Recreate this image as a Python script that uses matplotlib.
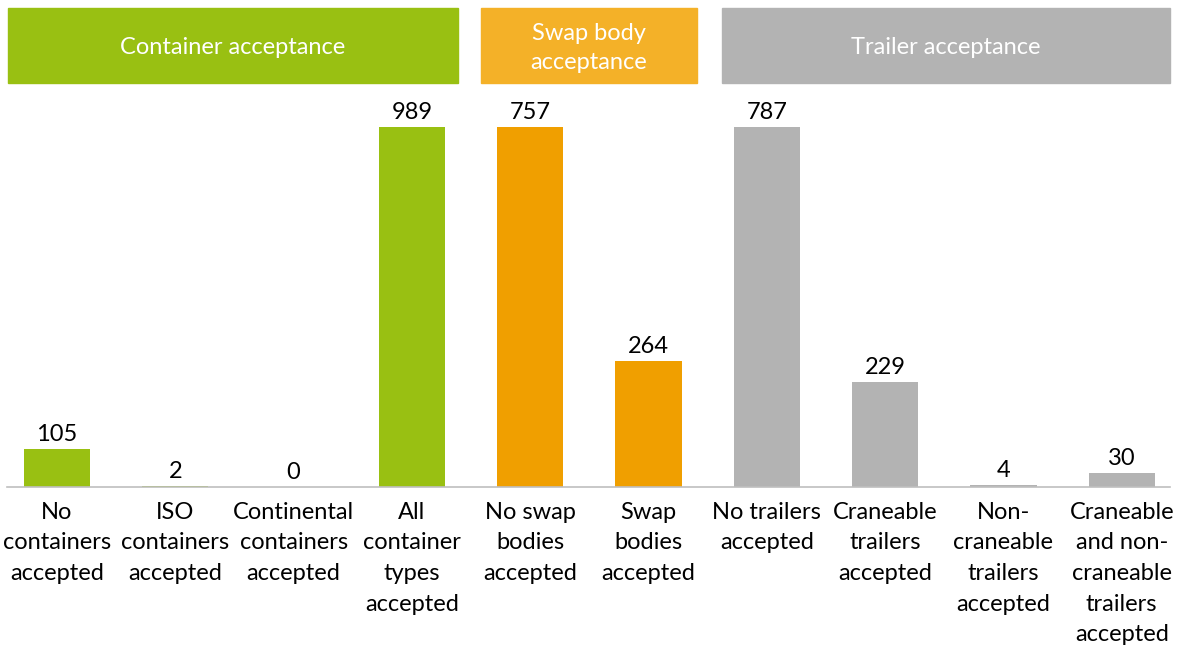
import matplotlib.pyplot as plt
from matplotlib.patches import Rectangle
from matplotlib.lines import Line2D

plt.rcParams['font.family'] = ['Lato', 'DejaVu Sans']

# terminal counts per acceptance type
container_labels = ["No\ncontainers\naccepted", "ISO\ncontainers\naccepted",
                    "Continental\ncontainers\naccepted", "All\ncontainer\ntypes\naccepted"]
container_values = [105, 2, 0, 989]
swap_labels = ["No swap\nbodies\naccepted", "Swap\nbodies\naccepted"]
swap_values = [757, 264]
trailer_labels = ["No trailers\naccepted", "Craneable\ntrailers\naccepted",
                  "Non-\ncraneable\ntrailers\naccepted",
                  "Craneable\nand non-\ncraneable\ntrailers\naccepted"]
trailer_values = [787, 229, 4, 30]

groups = [
    ("Container acceptance", container_labels, container_values, "#99C012", "#99C012"),
    ("Swap body\nacceptance", swap_labels, swap_values, "#F09F00", "#F4B128"),
    ("Trailer acceptance", trailer_labels, trailer_values, "#B3B3B3", "#B3B3B3"),
]
# header boxes in pixel x-ranges
header_spans = [(8, 458), (481, 697), (722, 1170)]

W, H = 1177, 646
fig = plt.figure(figsize=(W / 100, H / 100), dpi=100)

step = 118.3
x0 = 57 - step / 2
base_y = 487
bar_top = 127
slot = 0
for (title, labels, values, color, hcolor), (hx0, hx1) in zip(groups, header_spans):
    n = len(values)
    left = x0 + slot * step
    ax = fig.add_axes([left / W, (H - base_y) / H, n * step / W, (base_y - bar_top) / H])
    xs = range(n)
    bars = ax.bar(xs, values, width=0.56, color=color)
    ax.set_xlim(-0.5, n - 0.5)
    ax.set_ylim(0, max(values))
    for b, v in zip(bars, values):
        ax.annotate(str(v), (b.get_x() + b.get_width() / 2, v), xytext=(0, 3),
                    textcoords="offset points", ha="center", va="bottom",
                    fontsize=17, color="black", annotation_clip=False)
    ax.set_xticks(list(xs))
    ax.set_xticklabels(labels, fontsize=17, linespacing=1.57, va="top")
    ax.tick_params(axis="x", length=0, pad=10.5)
    ax.set_yticks([])
    for s in ax.spines.values():
        s.set_visible(False)
    ax.patch.set_alpha(0)

    # group header
    fig.add_artist(Rectangle((hx0 / W, (H - 83) / H), (hx1 - hx0) / W, 75 / H,
                             transform=fig.transFigure, color=hcolor, zorder=0))
    fig.text((hx0 + hx1) / 2 / W, (H - 48) / H, title, color="white", fontsize=17,
             ha="center", va="center", linespacing=1.45)
    slot += n

fig.add_artist(Line2D([7 / W, 1170 / W], [(H - base_y) / H] * 2,
                      transform=fig.transFigure, color="#BFBFBF", lw=1.2))

fig.savefig("out.png", dpi=100)
